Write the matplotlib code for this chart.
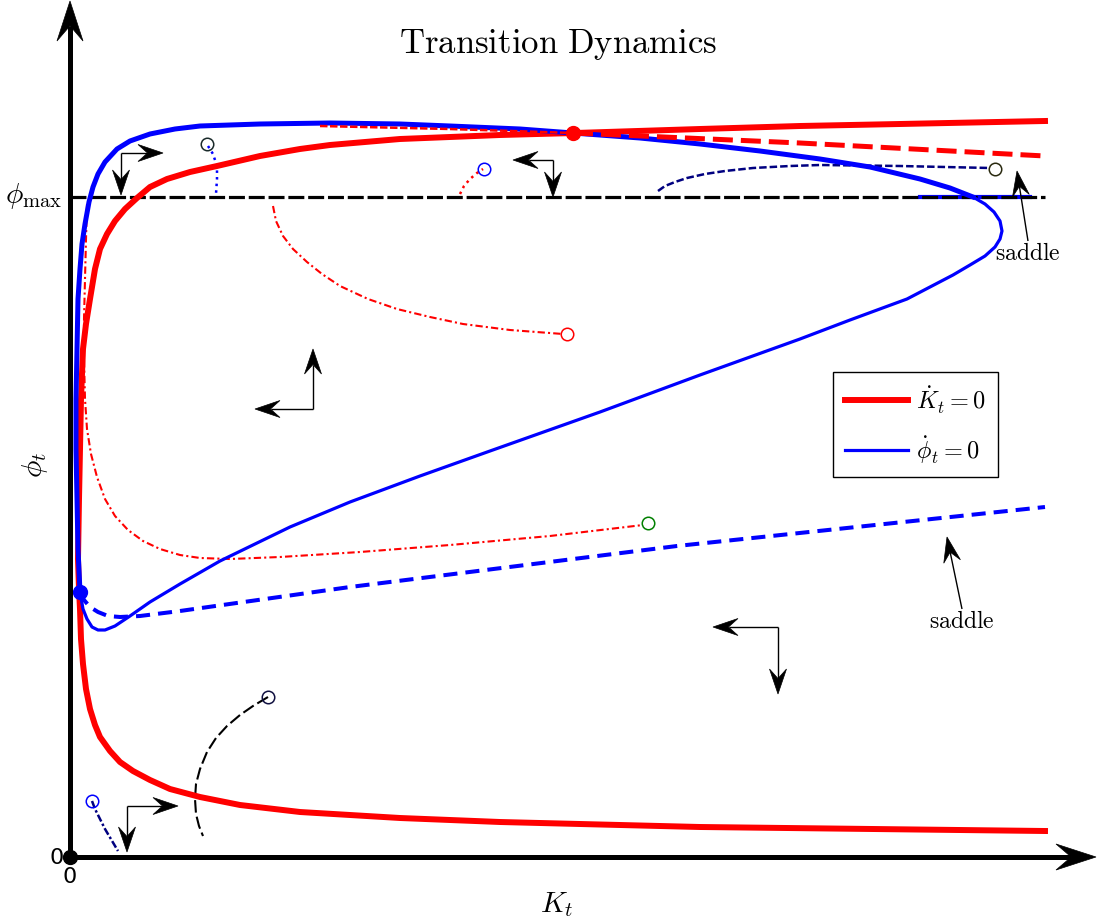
import numpy as np
import matplotlib
matplotlib.use('Agg')
from matplotlib import pyplot as plt
from matplotlib.lines import Line2D
from matplotlib.patches import Polygon

plt.rcParams['mathtext.fontset'] = 'cm'

# K-dot = 0 locus (red)
k_red = [9.75, 8.30, 7.30, 6.30, 5.05, 4.30, 3.30, 2.60, 2.30, 1.90, 1.47, 1.20, 0.97, 0.80, 0.67,
         0.55, 0.45, 0.37, 0.30, 0.25, 0.20, 0.16, 0.13, 0.11, 0.10, 0.09, 0.08, 0.09, 0.10, 0.11,
         0.13, 0.16, 0.20, 0.25, 0.30, 0.40, 0.50, 0.63, 0.80, 1.00, 1.30, 1.70, 2.30, 3.30, 4.30,
         6.30, 9.75]
phi_red = [7.36, 7.33, 7.31, 7.28, 7.24, 7.22, 7.18, 7.12, 7.08, 7.01, 6.91, 6.85, 6.78, 6.70, 6.59,
           6.48, 6.36, 6.23, 6.08, 5.88, 5.58, 5.33, 5.08, 4.58, 4.08, 3.58, 2.98, 2.68, 2.48, 2.18,
           1.93, 1.68, 1.48, 1.32, 1.20, 1.06, 0.95, 0.86, 0.77, 0.68, 0.60, 0.52, 0.45, 0.39, 0.35,
           0.30, 0.26]

# phi-dot = 0 locus (blue): thick upper part, thin return part
k_blue_a = [0.10, 0.08, 0.07, 0.06, 0.06, 0.07, 0.08, 0.10, 0.12, 0.15, 0.19, 0.23, 0.28, 0.35,
            0.47, 0.60, 0.80, 1.05, 1.30, 1.90, 2.60, 3.30, 3.80, 4.50, 5.03, 5.70, 6.30, 6.90,
            7.50, 8.00, 8.50, 8.80, 9.03]
phi_blue_a = [2.65, 3.08, 3.58, 4.08, 4.58, 5.08, 5.58, 5.88, 6.13, 6.33, 6.55, 6.70, 6.83, 6.95,
              7.08, 7.16, 7.23, 7.28, 7.31, 7.33, 7.34, 7.33, 7.31, 7.28, 7.24, 7.19, 7.13, 7.06,
              6.98, 6.90, 6.78, 6.69, 6.60]
k_blue_b = [9.03, 9.15, 9.24, 9.30, 9.32, 9.30, 9.25, 9.15, 9.00, 8.83, 8.60, 8.37, 7.80, 7.30,
            6.30, 5.30, 4.20, 3.50, 2.80, 2.20, 1.50, 1.10, 0.80, 0.60, 0.45, 0.35, 0.28, 0.22,
            0.17, 0.13, 0.10]
phi_blue_b = [6.60, 6.53, 6.45, 6.36, 6.26, 6.18, 6.10, 6.01, 5.92, 5.82, 5.70, 5.58, 5.37, 5.18,
              4.82, 4.45, 4.06, 3.81, 3.55, 3.30, 2.96, 2.73, 2.55, 2.41, 2.31, 2.27, 2.27, 2.30,
              2.38, 2.48, 2.65]
k_blue_cap = [8.50, 9.60]
phi_blue_cap = [6.60, 6.60]

# saddle paths
k_red_dash = [5.03, 7.30, 9.75]
phi_red_dash = [7.24, 7.14, 7.01]
k_red_dash_l = [2.50, 3.80, 5.03]
phi_red_dash_l = [7.31, 7.28, 7.24]
k_blue_dash = [0.10, 0.14, 0.20, 0.28, 0.38, 0.50, 0.70, 1.10, 2.80, 6.07, 9.75]
phi_blue_dash = [2.65, 2.57, 2.50, 2.45, 2.41, 2.40, 2.41, 2.46, 2.70, 3.11, 3.50]

phi_max = 6.60
k_end = 9.75

# trajectories
k_tr1 = [0.17, 0.16, 0.15, 0.14, 0.14, 0.15, 0.17, 0.21, 0.27, 0.35, 0.45, 0.58, 0.73, 0.90,
         1.10, 1.30, 1.60, 2.10, 2.90, 3.80, 4.80, 5.73]
phi_tr1 = [6.53, 6.18, 5.78, 5.38, 4.98, 4.58, 4.28, 4.03, 3.80, 3.58, 3.41, 3.27, 3.16, 3.08,
           3.02, 2.99, 2.98, 3.00, 3.05, 3.12, 3.21, 3.32]
k_tr2 = [2.03, 2.06, 2.13, 2.23, 2.37, 2.52, 2.70, 2.98, 3.27, 3.60, 3.93, 4.40, 4.93]
phi_tr2 = [6.51, 6.36, 6.21, 6.08, 5.95, 5.83, 5.71, 5.58, 5.48, 5.40, 5.33, 5.27, 5.23]
k_tr3 = [3.90, 3.94, 4.00, 4.07, 4.13]
phi_tr3 = [6.63, 6.71, 6.78, 6.84, 6.88]
k_tr4 = [1.38, 1.43, 1.47, 1.47, 1.46]
phi_tr4 = [7.11, 7.03, 6.91, 6.78, 6.63]
k_tr5 = [5.88, 5.95, 6.05, 6.17, 6.35, 6.55, 6.83, 7.20, 7.50, 8.30, 9.20]
phi_tr5 = [6.66, 6.71, 6.75, 6.79, 6.83, 6.86, 6.89, 6.91, 6.92, 6.91, 6.89]
k_tr6 = [0.22, 0.25, 0.35, 0.48]
phi_tr6 = [0.56, 0.48, 0.28, 0.06]
k_tr7 = [1.98, 1.83, 1.70, 1.57, 1.46, 1.37, 1.30, 1.26, 1.25, 1.26, 1.29, 1.33]
phi_tr7 = [1.60, 1.51, 1.42, 1.31, 1.19, 1.05, 0.88, 0.73, 0.58, 0.43, 0.31, 0.21]

# start circles: (K, phi, colour)
starts = [(5.78, 3.34, 'green'), (4.97, 5.23, 'red'), (4.14, 6.88, 'blue'),
          (1.37, 7.13, '#1a2a2a'), (9.25, 6.88, '#2a2a10'), (0.22, 0.56, 'blue'), (1.98, 1.60, '#101040')]

# direction arrows: corner, horizontal tip, vertical tip
arrows = [((0.51, 7.04), (0.93, 7.04), (0.51, 6.62)),
          ((4.83, 6.97), (4.43, 6.97), (4.83, 6.60)),
          ((2.43, 4.48), (1.85, 4.48), (2.43, 5.08)),
          ((7.08, 2.30), (6.43, 2.30), (7.08, 1.63)),
          ((0.57, 0.51), (1.08, 0.51), (0.57, 0.05))]


def stealth(ax, start, tip, length, half, lw, zorder=8):
    start = np.array(start, float)
    tip = np.array(tip, float)
    d = tip - start
    d = d / np.hypot(*d)
    n = np.array([-d[1], d[0]])
    back = tip - d * length
    notch = tip - d * length * 0.62
    ax.plot([start[0], notch[0]], [start[1], notch[1]], color='black', lw=lw, zorder=zorder,
            solid_capstyle='butt')
    ax.add_patch(Polygon([tip, back + n * half, notch, back - n * half], closed=True,
                         facecolor='black', edgecolor='black', lw=0.5, zorder=zorder))


fig = plt.figure(figsize=(10.98, 9.2), dpi=100)
ax = fig.add_axes([0, 0, 1, 1])
ax.set_xlim(-0.70, 10.28)
ax.set_ylim(-0.62, 8.58)
ax.axis('off')

# axes with arrows
stealth(ax, (0, 0), (0, 8.56), 0.40, 0.13, 3.6)
stealth(ax, (0, 0), (10.26, 0), 0.40, 0.13, 3.6)

ax.plot(k_blue_cap, phi_blue_cap, color='blue', lw=3, zorder=2)
ax.plot([0, k_end], [phi_max, phi_max], color='black', lw=2.3, dashes=(5, 1.2), zorder=3)

ax.plot(k_red, phi_red, color='red', lw=4.3, solid_joinstyle='round', zorder=4)
ax.plot(k_blue_a, phi_blue_a, color='blue', lw=3.6, solid_joinstyle='round', zorder=4)
ax.plot(k_blue_b, phi_blue_b, color='blue', lw=2.3, solid_joinstyle='round', zorder=4)
ax.plot(k_red_dash, phi_red_dash, color='red', lw=3.6, dashes=(4, 1.6), zorder=5)
ax.plot(k_red_dash_l, phi_red_dash_l, color='red', lw=1.8, dashes=(3, 1), zorder=5)
ax.plot(k_blue_dash, phi_blue_dash, color='blue', lw=2.9, dashes=(3.5, 2), zorder=5)

ax.plot(k_tr1, phi_tr1, color='red', lw=1.5, dashes=(3.5, 1.5, 1, 1.5))
ax.plot(k_tr2, phi_tr2, color='red', lw=1.5, dashes=(3.5, 1.5, 1, 1.5))
ax.plot(k_tr3, phi_tr3, color='red', lw=1.8, ls=':')
ax.plot(k_tr4, phi_tr4, color='blue', lw=1.8, ls=':')
ax.plot(k_tr5, phi_tr5, color='#000080', lw=1.8, dashes=(3, 1.2))
ax.plot(k_tr6, phi_tr6, color='#000080', lw=1.8, dashes=(3, 1, 1, 1))
ax.plot(k_tr7, phi_tr7, color='black', lw=1.5, dashes=(6, 2))

for k, p, c in starts:
    ax.plot(k, p, 'o', ms=9, mfc='none', mec=c, mew=1.1, zorder=6)

ax.plot(5.03, 7.24, 'o', color='red', ms=10, zorder=7)
ax.plot(0.10, 2.65, 'o', color='blue', ms=10, zorder=7)
ax.plot(0, 0, 'o', color='black', ms=10, zorder=9)

for corner, htip, vtip in arrows:
    stealth(ax, corner, htip, 0.25, 0.085, 1.0)
    stealth(ax, corner, vtip, 0.25, 0.085, 1.0)

# saddle labels
ax.text(9.58, 6.05, r'$\mathrm{saddle}$', ha='center', va='center', fontsize=17)
stealth(ax, (9.58, 6.16), (9.47, 6.86), 0.25, 0.085, 1.0)
ax.text(8.92, 2.37, r'$\mathrm{saddle}$', ha='center', va='center', fontsize=17)
stealth(ax, (8.92, 2.48), (8.77, 3.20), 0.25, 0.085, 1.0)

ax.text(4.88, 8.13, r'$\mathrm{Transition\ Dynamics}$', ha='center', va='center', fontsize=25)
ax.text(-0.08, 6.62, r'$\phi_{\max}$', ha='right', va='center', fontsize=21)
ax.text(-0.35, 3.93, r'$\phi_t$', ha='center', va='center', fontsize=21, rotation=90)
ax.text(4.87, -0.47, r'$K_t$', ha='center', va='center', fontsize=21)
ax.text(-0.06, 0, '0', ha='right', va='center', fontsize=16)
ax.text(0, -0.19, '0', ha='center', va='center', fontsize=16)

handles = [Line2D([], [], color='red', lw=4.3), Line2D([], [], color='blue', lw=2.3)]
leg = ax.legend(handles, [r'$\dot{K}_t = 0$', r'$\dot{\phi}_t = 0$'], loc='upper left',
                bbox_to_anchor=(0.7587, 0.5946), fontsize=17.5, fancybox=False, edgecolor='black',
                framealpha=1, borderaxespad=0, handlelength=2.6, handletextpad=0.3,
                labelspacing=0.75, borderpad=0.5)
leg.get_frame().set_linewidth(1.0)

plt.savefig('out.png', dpi=100)
